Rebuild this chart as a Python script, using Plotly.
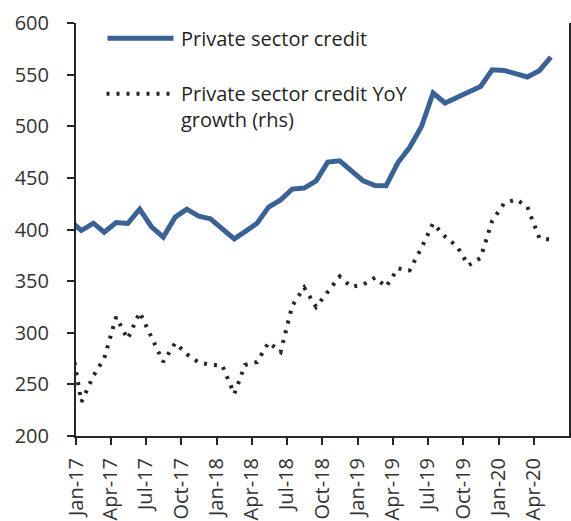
import pandas as pd
import plotly.graph_objects as go

# Monthly observations, Dec-16 .. May-20 (plotted mid-month)
start_month = "2016-12-01"
credit = [409, 399.0, 406.1, 397.4, 406.7, 405.8, 419.7, 402.9, 392.6, 412.0,
          419.7, 412.9, 410.3, 400.3, 390.9, 398.0, 406.1, 421.7, 428.7, 439.1,
          440.1, 447.1, 465.3, 466.5, 456.8, 447.1, 442.6, 442.3, 464.9, 479.4,
          499.8, 532.2, 522.5, 527.3, 533.1, 538.5, 554.7, 554.1, 550.9, 547.7,
          553.8, 567.0]
yoy = [7.49, 2.47, 4.36, 5.63, 8.65, 7.05, 8.98, 7.16, 5.38, 6.76,
       5.95, 5.34, 5.18, 5.12, 3.05, 5.16, 5.38, 6.80, 6.11, 9.45,
       10.79, 9.38, 10.47, 11.59, 10.83, 11.00, 11.51, 10.83, 12.18, 12.03,
       13.67, 15.45, 14.49, 13.77, 12.39, 12.94, 15.63, 16.90, 17.19, 16.65,
       14.39, 14.25]
tick_dates = ["2017-01-01", "2017-04-01", "2017-07-01", "2017-10-01",
              "2018-01-01", "2018-04-01", "2018-07-01", "2018-10-01",
              "2019-01-01", "2019-04-01", "2019-07-01", "2019-10-01",
              "2020-01-01", "2020-04-01"]
tick_labels = ["Jan-17", "Apr-17", "Jul-17", "Oct-17", "Jan-18", "Apr-18",
               "Jul-18", "Oct-18", "Jan-19", "Apr-19", "Jul-19", "Oct-19",
               "Jan-20", "Apr-20"]
series_names = ["Private sector credit", "Private sector credit YoY", "growth (rhs)"]

dates = pd.date_range(start_month, periods=len(credit), freq="MS") + pd.Timedelta(days=14)

BLUE = "#3a6294"
DARK = "#262626"
FONT = "Open Sans"
FS = 20

fig = go.Figure()
fig.add_trace(go.Scatter(x=dates, y=credit, mode="lines",
                         line=dict(color=BLUE, width=5), showlegend=False))
fig.add_trace(go.Scatter(x=dates, y=yoy, mode="lines", yaxis="y2",
                         line=dict(color=DARK, width=4, dash="3px,7px"),
                         showlegend=False))

# manual legend (pixel -> paper)
X0, X1, Y0, Y1 = 76.5, 569.4, 436.0, 23.3
def px(x):
    return (x - X0) / (X1 - X0)
def py(y):
    return (Y0 - y) / (Y0 - Y1)

fig.add_shape(type="line", xref="paper", yref="paper",
              x0=px(108), x1=px(174), y0=py(38.5), y1=py(38.5),
              line=dict(color=BLUE, width=5))
fig.add_shape(type="line", xref="paper", yref="paper",
              x0=px(107), x1=px(174), y0=py(94), y1=py(94),
              line=dict(color=DARK, width=4, dash="3px,7px"))
for txt, yy in [(series_names[0], 38.5), (series_names[1], 94), (series_names[2], 120)]:
    fig.add_annotation(text=txt, xref="paper", yref="paper", x=px(179), y=py(yy),
                       xanchor="left", yanchor="middle", showarrow=False,
                       font=dict(family=FONT, size=FS, color="#1f1f1f"))

fig.update_layout(
    width=571, height=521,
    margin=dict(l=76, r=2, t=23, b=85),
    paper_bgcolor="white", plot_bgcolor="white",
    font=dict(family=FONT, size=FS, color="#404040"),
    xaxis=dict(type="date", range=["2017-01-01", "2020-07-01"], automargin=False,
               tickvals=tick_dates, ticktext=tick_labels, tickangle=-90,
               ticklabelstandoff=5,
               showgrid=False, zeroline=False, showline=True, linecolor=DARK,
               linewidth=2, ticks="outside", ticklen=7, tickwidth=1.5,
               tickcolor=DARK, tickfont=dict(size=FS, color="#333333")),
    yaxis=dict(range=[200, 600], dtick=50, showgrid=False, zeroline=False,
               automargin=False, ticklabelstandoff=14,
               showline=True, linecolor=DARK, linewidth=2, ticks="outside",
               ticklen=7, tickwidth=1.5, tickcolor=DARK,
               tickfont=dict(size=FS, color="#333333")),
    yaxis2=dict(range=[0, 30], dtick=5, overlaying="y", side="right",
                automargin=False,
                showgrid=False, zeroline=False, showline=True, linecolor=DARK,
                linewidth=2, ticks="outside", ticklen=7, tickwidth=1.5,
                tickcolor=DARK, showticklabels=False),
)

fig.write_html("out.html", config={"displayModeBar": False},
               post_script="document.body.style.margin='0';document.body.style.overflow='hidden';")
